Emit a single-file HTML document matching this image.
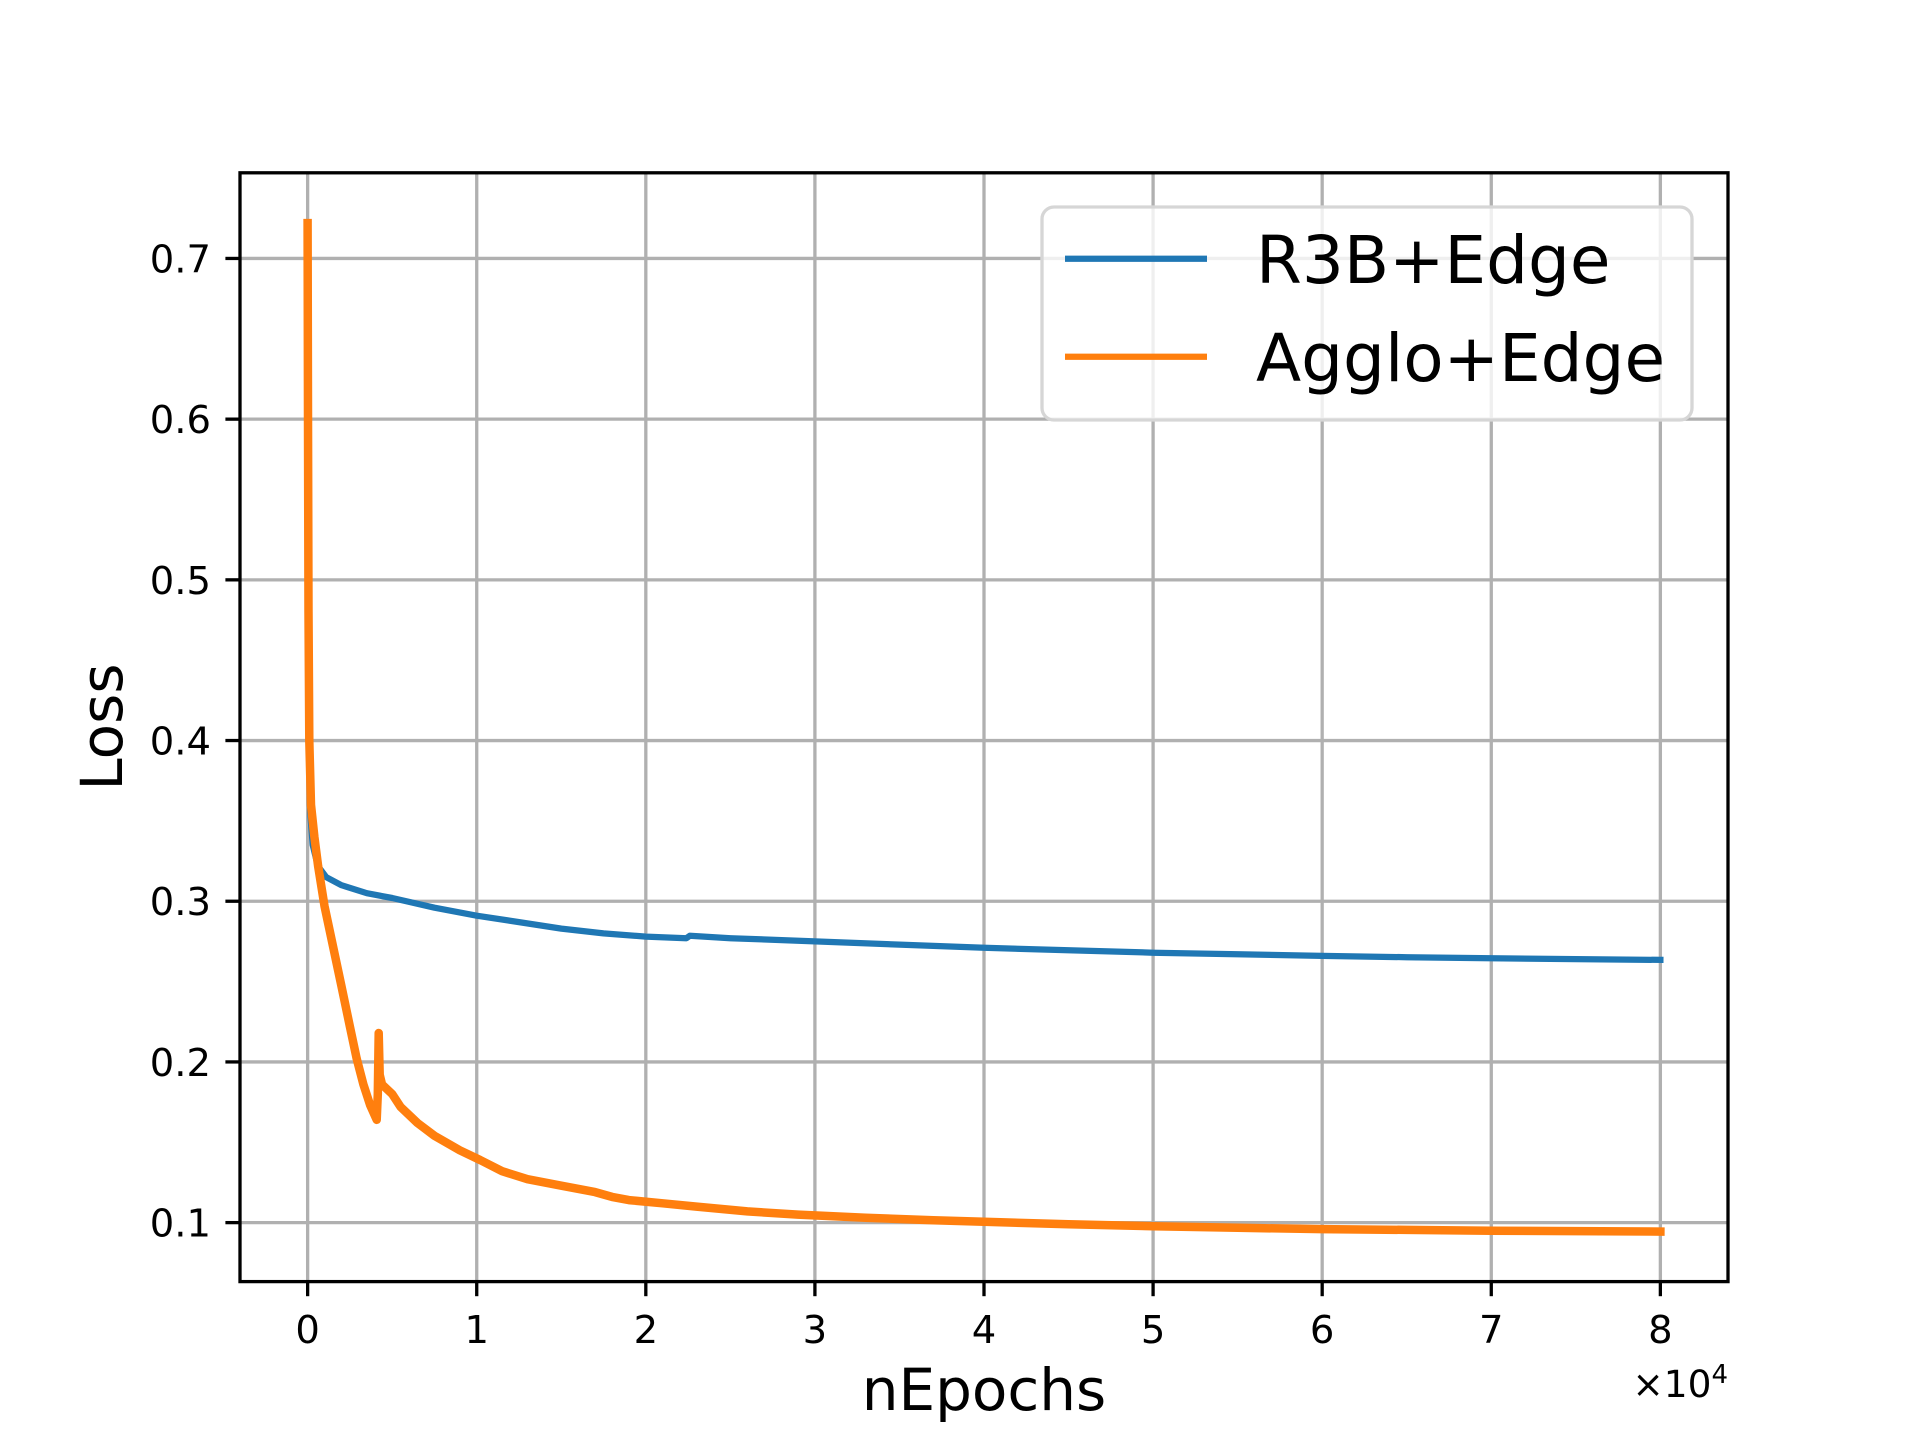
<!DOCTYPE html>
<html><head><meta charset="utf-8"><style>
html,body{margin:0;padding:0;background:#fff;}
svg{display:block;font-family:"DejaVu Sans","Liberation Sans",sans-serif;}
</style></head><body>
<svg id="chart" width="1920" height="1440" viewBox="0 0 1920 1440" xmlns="http://www.w3.org/2000/svg">
<rect width="1920" height="1440" fill="#fff"/>
<g id="grid"></g>
<g id="series"></g>
<g id="axes"></g>
<g id="legend"></g>
</svg>
<script>
const xTicks = [0, 10000, 20000, 30000, 40000, 50000, 60000, 70000, 80000];
const xTickLabels = ["0","1","2","3","4","5","6","7","8"];
const yTicks = [0.1, 0.2, 0.3, 0.4, 0.5, 0.6, 0.7];
const yTickLabels = ["0.1","0.2","0.3","0.4","0.5","0.6","0.7"];
const r3bX = [0, 30, 80, 150, 300, 600, 1100, 2000, 3500, 5000, 7500, 10000, 12500, 15000, 17500, 20000, 22400, 22600, 25000, 30000, 35000, 40000, 45000, 50000, 55000, 60000, 65000, 70000, 75000, 80000];
const r3bY = [0.615, 0.48, 0.40, 0.355, 0.335, 0.322, 0.315, 0.310, 0.305, 0.302, 0.296, 0.291, 0.287, 0.283, 0.280, 0.278, 0.277, 0.2785, 0.2770, 0.2750, 0.2730, 0.2710, 0.2695, 0.2680, 0.2670, 0.2660, 0.2652, 0.2645, 0.2640, 0.2635];
const aggX = [0, 20, 50, 100, 200, 400, 620, 1000, 1500, 2000, 2500, 2900, 3300, 3700, 4085, 4150, 4200, 4260, 4400, 5000, 5500, 6500, 7500, 9000, 10200, 11500, 13000, 15000, 17000, 18000, 19000, 21000, 23000, 26000, 29000, 33000, 37000, 40000, 45000, 50000, 55000, 60000, 65000, 70000, 75000, 80000];
const aggY = [0.722, 0.60, 0.48, 0.40, 0.36, 0.34, 0.322, 0.297, 0.272, 0.247, 0.222, 0.202, 0.186, 0.173, 0.164, 0.180, 0.218, 0.192, 0.186, 0.180, 0.172, 0.162, 0.154, 0.145, 0.139, 0.132, 0.127, 0.123, 0.119, 0.116, 0.114, 0.112, 0.110, 0.107, 0.105, 0.103, 0.1015, 0.1005, 0.0990, 0.0978, 0.0968, 0.0960, 0.0955, 0.0950, 0.0947, 0.0944];

const L=240, R=1728, T=172.8, B=1281.6;
const xMin=-4000, xMax=84000, yMin=0.0633, yMax=0.7533;
const sx = v => L + (v - xMin) / (xMax - xMin) * (R - L);
const sy = v => B - (v - yMin) / (yMax - yMin) * (B - T);
const NS="http://www.w3.org/2000/svg";
function mk(tag, attrs, parent){ const e=document.createElementNS(NS,tag); for(const k in attrs) e.setAttribute(k,attrs[k]); parent.appendChild(e); return e; }
const grid=document.getElementById('grid'), axes=document.getElementById('axes'), series=document.getElementById('series'), legend=document.getElementById('legend');

xTicks.forEach((t,i)=>{
  const g=mk('line',{x1:sx(t),x2:sx(t),y1:T,y2:B,stroke:'#b0b0b0','stroke-width':3.3},grid);
  
  
  const tk=mk('line',{x1:sx(t),x2:sx(t),y1:B,y2:B+14.6,stroke:'#000','stroke-width':3.3},axes);
  
  
  const tx=mk('text',{x:sx(t),y:1343,'font-size':38.5,'text-anchor':'middle',fill:'#000'},axes);
  tx.textContent=xTickLabels[i];
  
  
});
yTicks.forEach((t,i)=>{
  const g=mk('line',{x1:L,x2:R,y1:sy(t),y2:sy(t),stroke:'#b0b0b0','stroke-width':3.3},grid);
  
  
  const tk=mk('line',{x1:L-14.6,x2:L,y1:sy(t),y2:sy(t),stroke:'#000','stroke-width':3.3},axes);
  
  
  const tx=mk('text',{x:L-29,y:sy(t)+14,'font-size':38.5,'text-anchor':'end',fill:'#000'},axes);
  tx.textContent=yTickLabels[i];
  
  
});

function path(xs,ys){ return xs.map((x,i)=>(i?'L':'M')+sx(x).toFixed(1)+' '+sy(ys[i]).toFixed(1)).join(' '); }
const p1=mk('path',{d:path(r3bX,r3bY),fill:'none',stroke:'#1f77b4','stroke-width':6.25,'stroke-linejoin':'round','stroke-linecap':'square'},series);


const p2=mk('path',{d:path(aggX,aggY),fill:'none',stroke:'#ff7f0e','stroke-width':8.5,'stroke-linejoin':'round','stroke-linecap':'square'},series);



const fr=mk('rect',{x:L,y:T,width:R-L,height:B-T,fill:'none',stroke:'#000','stroke-width':3.3},axes);


const xl=mk('text',{x:984,y:1410,'font-size':58,'text-anchor':'middle',fill:'#000'},axes);
xl.textContent='nEpochs';


const yl=mk('text',{x:0,y:0,'font-size':58,'text-anchor':'middle',fill:'#000',transform:'translate(122,727) rotate(-90)'},axes);
yl.textContent='Loss';


const off=mk('text',{x:R,y:1397,'font-size':37.5,'text-anchor':'end',fill:'#000'},axes);
off.innerHTML='×10<tspan dy="-14" font-size="26">4</tspan>';



const lb=mk('rect',{x:1042,y:207,width:650,height:213,rx:12,fill:'rgba(255,255,255,0.8)',stroke:'#d6d6d6','stroke-width':3.3},legend);


[['R3B+Edge','#1f77b4',258.7,283],['Agglo+Edge','#ff7f0e',356.7,381]].forEach(d=>{
  const ln=mk('line',{x1:1065,x2:1207,y1:d[2],y2:d[2],stroke:d[1],'stroke-width':6.25},legend);
  
  
  const t=mk('text',{x:1256,y:d[3],'font-size':66,fill:'#000'},legend);
  t.textContent=d[0];
  
  
});
</script>
</body></html>
